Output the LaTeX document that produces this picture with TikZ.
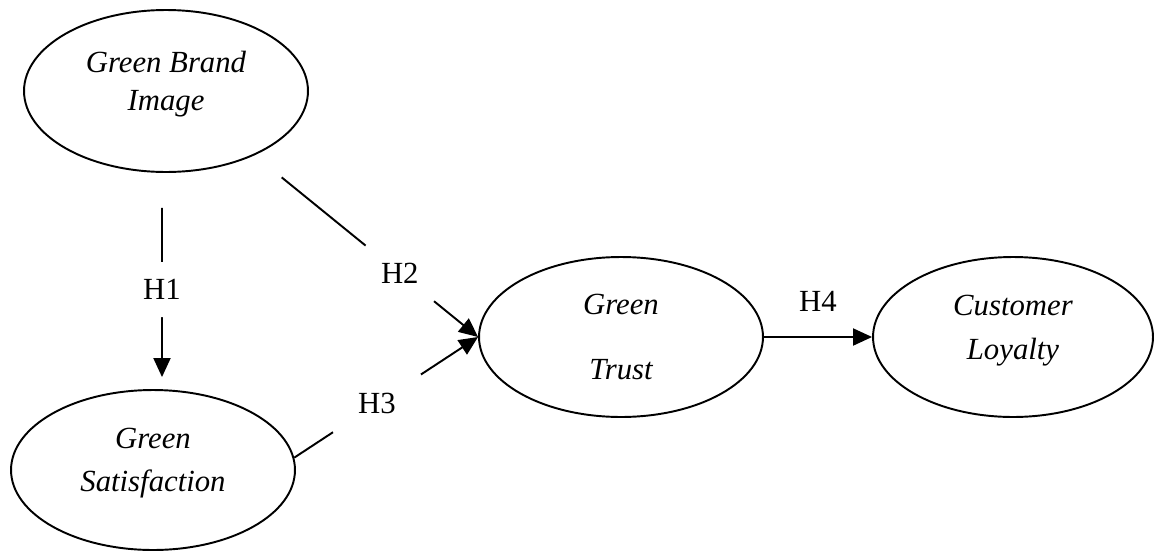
\documentclass[tikz,border=0pt]{standalone}
\usepackage{fontspec}
\setmainfont{Liberation Serif}
\usetikzlibrary{positioning, shapes.geometric, arrows.meta}

\tikzset{
  var/.style={draw, ellipse, line width=1.1pt, minimum width=5.68cm, minimum height=3.24cm,
    inner sep=0pt, align=center, font=\fontsize{17.5}{21.6}\selectfont\itshape},
  lift/.style={execute at end node={\rule[-0.4cm]{0pt}{0pt}}},
  link/.style={line width=1.1pt, -{Triangle[length=0.38cm, width=0.34cm]}},
  hyp/.style={circle, fill=white, inner sep=0pt, font=\fontsize{17.5}{21}\selectfont},
}

\begin{document}
\begin{tikzpicture}[x=0.02cm, y=-0.02cm]
  \useasboundingbox (0,0) rectangle (1155,551);
  % 潜变量
  \node[var, lift] (GBI) at (166,91) {Green Brand\\Image};
  \node[var, lift, minimum height=3.2cm] (GS) at (153,470) {Green\\[2.9pt]Satisfaction};
  \node[var, minimum height=3.2cm] (GT) at (621,337) {Green\\[15.4pt]Trust};
  \node[var, lift, minimum width=5.6cm, minimum height=3.2cm] (CL) at (1013,337) {Customer\\[3.4pt]Loyalty};

  % 假设路径 H1--H4
  \draw[link, shorten <=0.7cm, shorten >=0.24cm] ([xshift=-0.08cm]GBI.south)
    -- node[hyp, pos=0.54, minimum size=1.1cm] {H1} ([xshift=0.18cm]GS.north);
  \draw[link, shorten <=0.7cm] (GBI.-36) -- node[hyp, pos=0.65, minimum size=1.76cm] {H2} (GT.west);
  \draw[link] (GS.5) -- node[hyp, pos=0.45, minimum size=2.1cm] {H3} (GT.west);
  \draw[link] (GT) -- node[above=0.4cm, inner sep=0.1cm, font=\fontsize{17.5}{21}\selectfont] (h4) {H4} (CL);
\end{tikzpicture}
\end{document}
